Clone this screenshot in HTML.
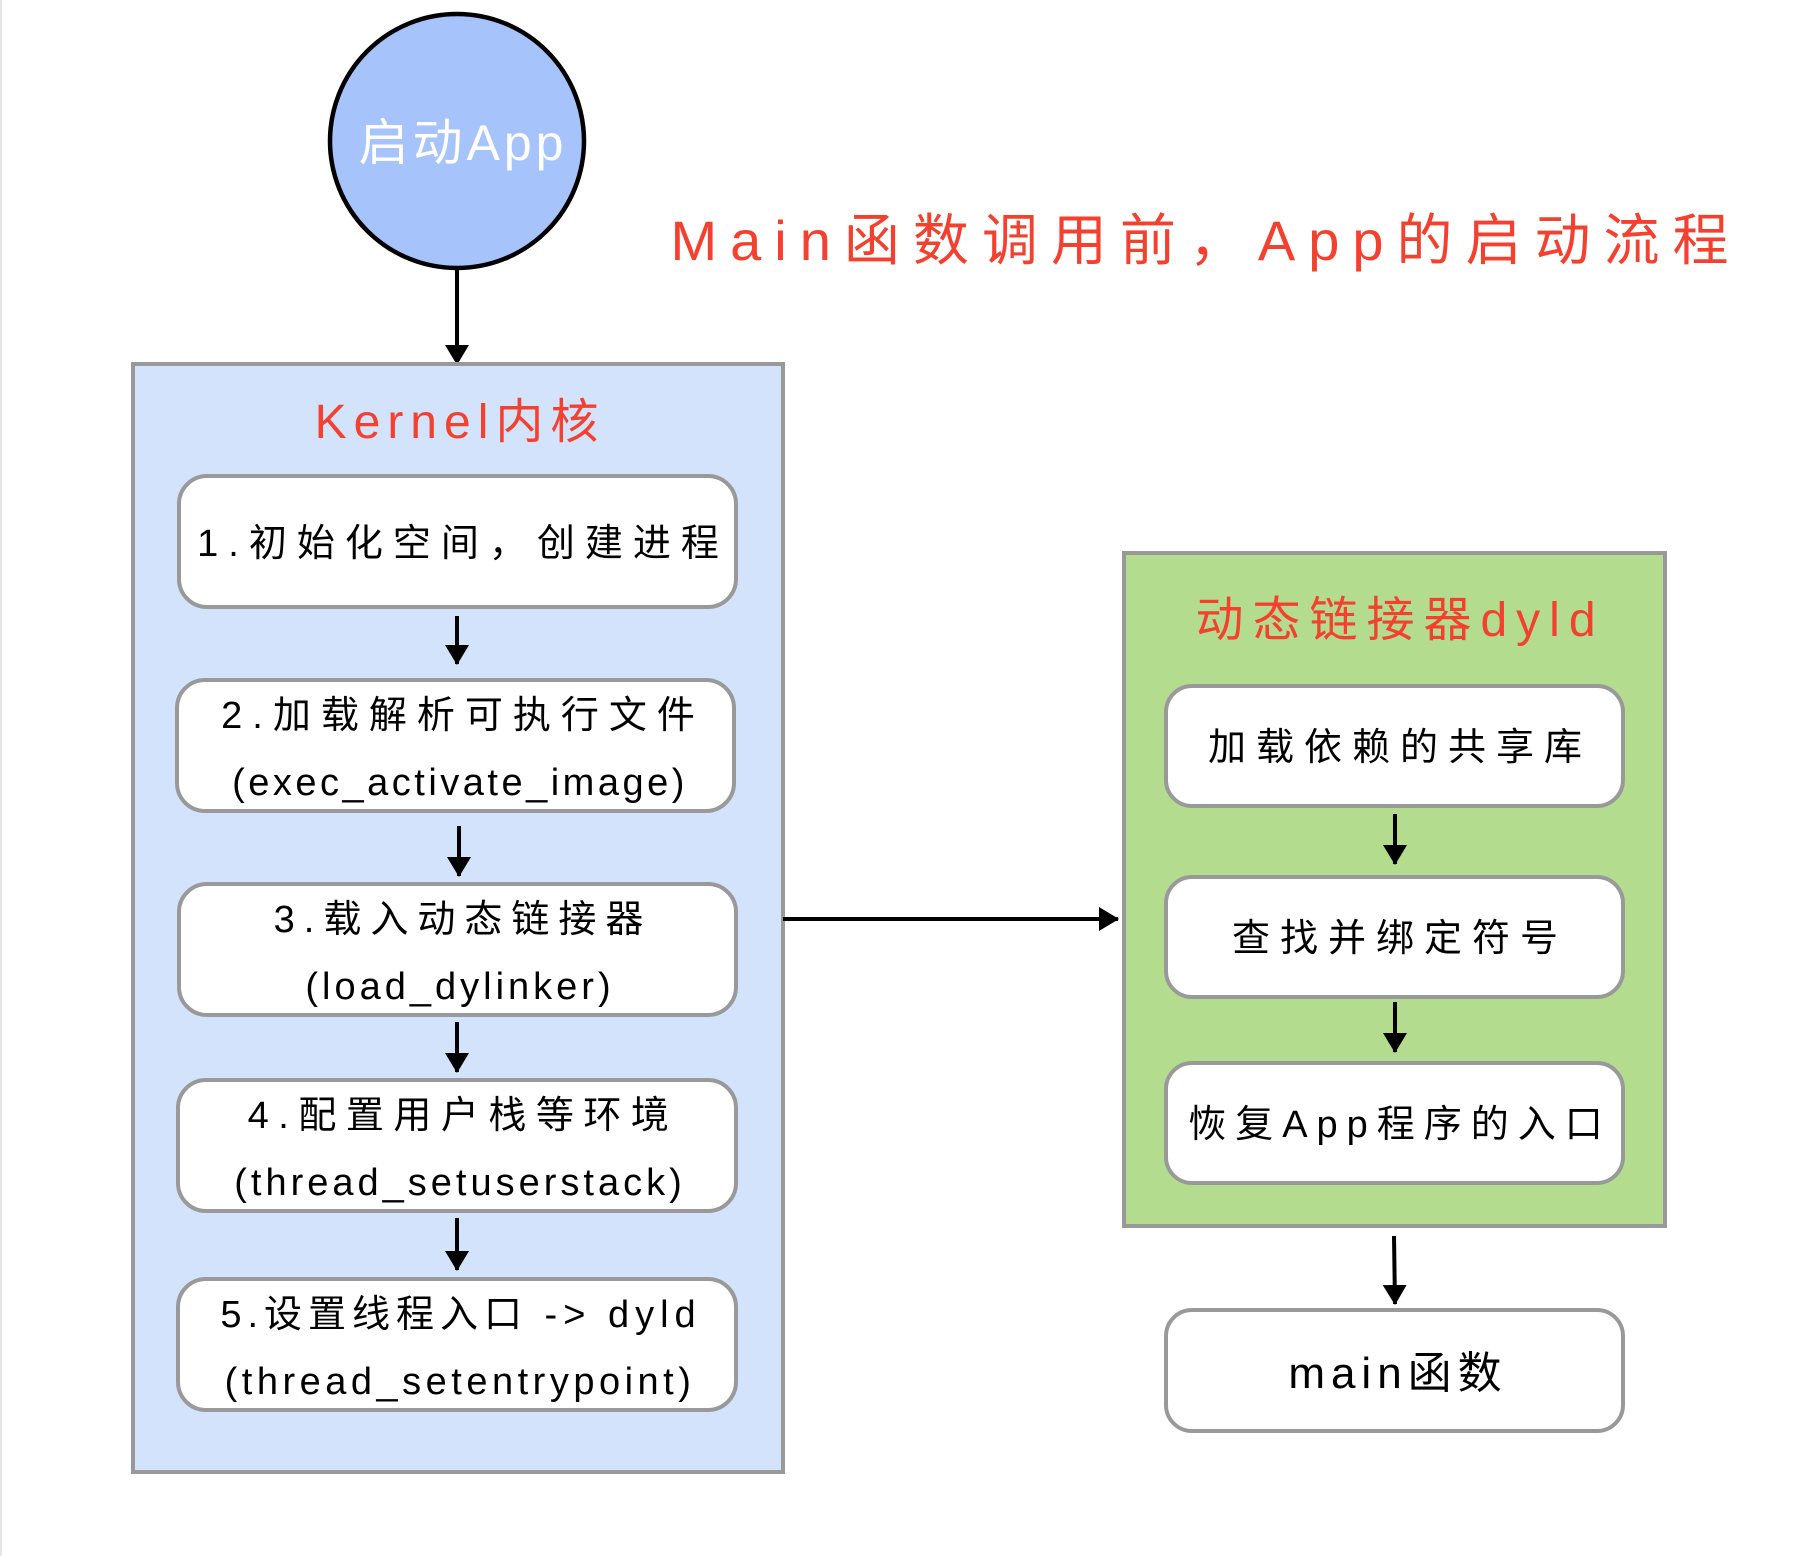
<!DOCTYPE html>
<html><head><meta charset="utf-8"><style>
html,body{margin:0;padding:0;background:#fff}
svg{display:block}
text{font-family:"Liberation Sans","Noto Sans CJK SC",sans-serif}
</style></head><body>
<svg width="1800" height="1556" viewBox="0 0 1800 1556" xmlns="http://www.w3.org/2000/svg">
<defs>
<marker id="b" markerWidth="20" markerHeight="24" refX="19" refY="12" orient="auto" markerUnits="userSpaceOnUse"><path d="M0,0 L20,12 L0,24 z" fill="#000"/></marker></defs>
<line x1="1" y1="0" x2="1" y2="1556" stroke="#e6e6e6" stroke-width="2"/>
<circle cx="457" cy="141" r="127" fill="#a6c4fb" stroke="#000" stroke-width="4.5"/>
<text x="463" y="160" font-size="50" fill="#fff" text-anchor="middle" letter-spacing="4">启动App</text>
<line x1="457" y1="268" x2="457" y2="364" stroke="#000" stroke-width="4" marker-end="url(#b)"/>
<text x="1206" y="260" font-size="56" fill="#f4412f" text-anchor="middle" letter-spacing="13">Main函数调用前，App的启动流程</text>

<rect x="133" y="364" width="650" height="1108" fill="#d4e3fc" stroke="#999" stroke-width="4"/>
<text x="460" y="438" font-size="48" fill="#f4412f" text-anchor="middle" letter-spacing="7">Kernel内核</text>
<g fill="#fff" stroke="#999" stroke-width="4">
<rect x="179" y="476" width="557" height="131" rx="28"/>
<rect x="177" y="680" width="557" height="131" rx="28"/>
<rect x="179" y="884" width="557" height="131" rx="28"/>
<rect x="178" y="1080" width="558" height="131" rx="28"/>
<rect x="178" y="1279" width="558" height="131" rx="28"/>
</g>
<g font-size="38" fill="#000" text-anchor="middle">
<text x="463" y="556" letter-spacing="10">1.初始化空间，创建进程</text>
<text x="463" y="728" letter-spacing="10">2.加载解析可执行文件</text>
<text x="460" y="795" letter-spacing="3.5">(exec_activate_image)</text>
<text x="463" y="932" letter-spacing="9">3.载入动态链接器</text>
<text x="460" y="999" letter-spacing="4">(load_dylinker)</text>
<text x="463" y="1128" letter-spacing="9.5">4.配置用户栈等环境</text>
<text x="460" y="1195" letter-spacing="4">(thread_setuserstack)</text>
<text x="461" y="1327" letter-spacing="6">5.设置线程入口 -&gt; dyld</text>
<text x="460" y="1394" letter-spacing="4.5">(thread_setentrypoint)</text>
</g>
<g stroke="#000" stroke-width="4">
<line x1="457" y1="616" x2="457" y2="664" marker-end="url(#b)"/>
<line x1="459" y1="826" x2="459" y2="876" marker-end="url(#b)"/>
<line x1="457" y1="1022" x2="457" y2="1072" marker-end="url(#b)"/>
<line x1="457" y1="1218" x2="457" y2="1270" marker-end="url(#b)"/>
<line x1="783" y1="919" x2="1118" y2="919" marker-end="url(#b)"/>
</g>

<rect x="1124" y="553" width="541" height="673" fill="#b3dc8f" stroke="#999" stroke-width="4"/>
<text x="1400" y="636" font-size="48" fill="#f4412f" text-anchor="middle" letter-spacing="9">动态链接器dyld</text>
<g fill="#fff" stroke="#999" stroke-width="4">
<rect x="1166" y="686" width="457" height="120" rx="26"/>
<rect x="1166" y="877" width="457" height="120" rx="26"/>
<rect x="1166" y="1063" width="457" height="120" rx="26"/>
<rect x="1166" y="1310" width="457" height="121" rx="26"/>
</g>
<g font-size="38" fill="#000" text-anchor="middle">
<text x="1400" y="760" letter-spacing="10">加载依赖的共享库</text>
<text x="1400" y="951" letter-spacing="10">查找并绑定符号</text>
<text x="1400" y="1137" letter-spacing="9">恢复App程序的入口</text>
<text x="1398" y="1388" font-size="44" letter-spacing="6">main函数</text>
</g>
<g stroke="#000" stroke-width="4">
<line x1="1395" y1="814" x2="1395" y2="864" marker-end="url(#b)"/>
<line x1="1395" y1="1002" x2="1395" y2="1052" marker-end="url(#b)"/>
<line x1="1394" y1="1236" x2="1395" y2="1304" marker-end="url(#b)"/>
</g>
</svg>
</body></html>
